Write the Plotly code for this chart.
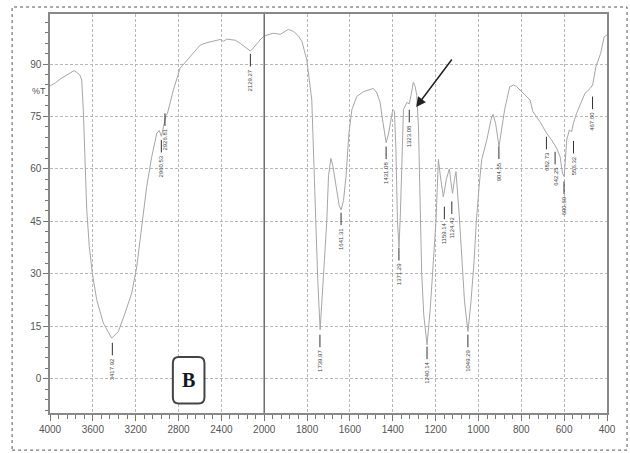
import numpy as np
import plotly.graph_objects as go

# ---- spectrum data (wavenumber cm-1, %T) ----
wavenumber = [4000, 3950, 3900, 3850, 3800, 3776, 3750, 3720, 3704, 3689, 3673, 3657, 3633, 3605,
              3564, 3502, 3424, 3362, 3299, 3237, 3190, 3143, 3097, 3050, 3003, 2980,
              2966, 2960, 2941, 2926, 2916, 2904, 2885, 2848, 2785, 2723, 2650, 2598, 2536, 2470,
              2411, 2380, 2350, 2318, 2270, 2224, 2180, 2150, 2129, 2110, 2069, 2030, 2000,
              1958, 1925, 1887, 1863, 1840, 1824, 1801, 1778, 1770, 1762, 1750, 1739, 1728, 1715,
              1708, 1700, 1689, 1680, 1665, 1650, 1641, 1630, 1618, 1605, 1591, 1568, 1537, 1510,
              1490, 1474, 1459, 1450, 1431, 1420, 1410, 1400, 1392, 1385, 1378, 1371, 1364, 1357,
              1350, 1334, 1323, 1315, 1304, 1295, 1288, 1280, 1272, 1265, 1255, 1240, 1225, 1210,
              1198, 1192, 1187, 1178, 1164, 1150, 1136, 1128, 1121, 1112, 1105, 1090, 1078, 1065,
              1049, 1035, 1020, 1010, 997, 985, 961, 940, 932, 920, 904, 890, 878, 854, 835, 823,
              792, 759, 746, 713, 682, 659, 635, 619, 608, 600, 588, 576, 565, 557, 542, 518, 503,
              479, 467, 452, 430, 413, 400]
transmittance = [83.7, 84.6, 85.8, 86.8, 87.6, 88.1, 87.6, 86.8, 85.4, 76.9, 62.6, 48.3, 37.8, 30.2,
                 22.6, 15.9, 11.6, 13.5, 18.8, 24.5, 32.0, 43.5, 55.0, 63.5, 70.2, 71.0,
                 69.6, 69.3, 72.0, 74.6, 75.4, 75.8, 78.3, 82.6, 88.8, 91.1, 93.5, 95.4, 96.1, 96.5,
                 97.0, 96.5, 97.1, 97.0, 96.8, 95.9, 95.0, 94.2, 93.7, 94.3, 95.9, 97.2, 98.0,
                 98.8, 98.5, 99.9, 99.3, 98.0, 96.4, 91.1, 79.7, 65.0, 48.0, 28.0, 14.0, 25.0, 40.0,
                 45.0, 58.0, 63.0, 61.0, 55.0, 49.5, 48.3, 51.0, 58.0, 70.0, 76.9, 80.7, 82.1, 82.5,
                 83.0, 81.7, 79.0, 75.0, 67.5, 70.0, 74.0, 77.0, 76.5, 65.0, 45.0, 37.5, 48.0, 65.0,
                 77.0, 79.0, 78.6, 81.0, 84.8, 83.5, 81.0, 72.0, 45.0, 30.0, 18.0, 9.7, 20.0, 34.0,
                 45.4, 55.0, 62.7, 58.0, 52.0, 57.0, 60.0, 56.0, 53.0, 57.0, 59.2, 47.0, 34.0, 22.0,
                 13.5, 22.0, 34.0, 45.0, 55.0, 62.6, 68.3, 74.5, 75.6, 73.0, 66.4, 72.0, 76.9, 83.5, 84.0, 83.6,
                 81.6, 79.7, 76.4, 73.5, 70.2, 68.3, 65.9, 63.5, 58.8, 57.8, 68.3, 71.1, 70.7, 73.0, 75.9, 79.7, 81.6,
                 83.0, 84.0, 89.2, 93.0, 97.8, 98.3]

# ---- peak labels ----
peak_wn = [3417.92, 2960.53, 2926.81, 2129.27, 1739.97, 1641.31, 1431.08, 1371.29, 1323.08, 1240.14,
           1159.14, 1124.42, 1049.29, 904.55, 682.73, 642.25, 600.69, 556.32, 467.60]
peak_T = [10.3, 68.3, 75.9, 92.9, 12.6, 47.5, 66.4, 37.4, 76.9, 9.2,
          49.2, 50.7, 12.6, 66.4, 69.2, 64.9, 56.4, 68.0, 80.7]
peak_text = ["3417.92", "2960.53", "2926.81", "2129.27", "1739.97", "1641.31", "1431.08", "1371.29",
             "1323.08", "1240.14", "1159.14", "1124.42", "1049.29", "904.55", "682.73", "642.25",
             "600.69", "556.32", "467.60"]

x_ticks = [4000, 3600, 3200, 2800, 2400, 2000, 1800, 1600, 1400, 1200, 1000, 800, 600, 400]
y_ticks = [0, 15, 30, 45, 60, 75, 90]


def to_p(w):
    """Instrument-style axis: 4000-2000 region compressed by a factor of two."""
    w = np.asarray(w, dtype=float)
    return np.where(w > 2000, 2000 + (w - 2000) / 2.0, w)


fig = go.Figure()
fig.add_trace(go.Scatter(x=to_p(wavenumber), y=transmittance, mode="lines",
                         line=dict(color="#a6a6a6", width=1), hoverinfo="skip"))

shapes = []
annotations = []

# peak markers and labels
for w, t, s in zip(peak_wn, peak_T, peak_text):
    p = float(to_p(w))
    shapes.append(dict(type="line", xref="x", yref="y", x0=p, x1=p, y0=t, y1=t - 3.6,
                       line=dict(color="#333333", width=1)))
    annotations.append(dict(x=p, y=t - 3.8, xref="x", yref="y", text=s, textangle=-90,
                            showarrow=False, xanchor="center", yanchor="top",
                            font=dict(family="Liberation Sans", size=6, color="#444444")))

# split line at 2000
shapes.append(dict(type="line", xref="x", yref="paper", x0=2000, x1=2000, y0=0, y1=1,
                   line=dict(color="#6e6e6e", width=1.5)))

# outer dotted frame
shapes.append(dict(type="rect", xref="paper", yref="paper", x0=-0.068, x1=1.036, y0=-0.093, y1=1.0175,
                   line=dict(color="#555555", width=1, dash="dot")))

# rounded box for "B"
bx0, bx1, by0, by1 = float(to_p(2853)), float(to_p(2558)), -7.1, 6.2
rx, ry = 28, 1.8
path = (f"M {bx0 - rx},{by1} L {bx1 + rx},{by1} Q {bx1},{by1} {bx1},{by1 - ry} "
        f"L {bx1},{by0 + ry} Q {bx1},{by0} {bx1 + rx},{by0} L {bx0 - rx},{by0} "
        f"Q {bx0},{by0} {bx0},{by0 + ry} L {bx0},{by1 - ry} Q {bx0},{by1} {bx0 - rx},{by1} Z")
shapes.append(dict(type="path", xref="x", yref="y", path=path,
                   line=dict(color="#444444", width=2), fillcolor="white"))
annotations.append(dict(x=(bx0 + bx1) / 2, y=(by0 + by1) / 2, xref="x", yref="y",
                        text="<b>B</b>", showarrow=False,
                        font=dict(family="Liberation Serif", size=20, color="#10182a")))

# arrow pointing at 1323 shoulder
annotations.append(dict(x=float(to_p(1291)), y=77.7, ax=float(to_p(1119)), ay=91.7,
                        xref="x", yref="y", axref="x", ayref="y", text="", showarrow=True,
                        arrowhead=2, arrowsize=1.3, arrowwidth=1.5, arrowcolor="#222222"))

# %T label
annotations.append(dict(x=-0.036, y=82.3, xref="paper", yref="y", text="%T", showarrow=False,
                        font=dict(family="Liberation Sans", size=9, color="#555555")))

fig.update_layout(
    width=630, height=453,
    margin=dict(l=50, r=23, t=14, b=40),
    plot_bgcolor="white", paper_bgcolor="white",
    showlegend=False,
    shapes=shapes, annotations=annotations,
    xaxis=dict(range=[3000, 400], tickmode="array", tickvals=to_p(x_ticks),
               ticktext=[str(v) for v in x_ticks], ticks="outside", ticklen=6, tickcolor="#777777",
               showline=True, linecolor="#888888", linewidth=1.5, mirror=True,
               showgrid=True, gridcolor="#b8b8b8", gridwidth=1, griddash="3px,2px", zeroline=False,
               tickfont=dict(family="Liberation Sans", size=10, color="#555555"),
               minor=dict(tickmode="linear", tick0=400, dtick=40, ticks="outside", ticklen=4,
                          tickcolor="#777777", showgrid=False)),
    yaxis=dict(range=[-9.8, 104.3], tickmode="array", tickvals=y_ticks,
               ticktext=[str(v) for v in y_ticks], ticks="outside", ticklen=5, tickcolor="#777777",
               showline=True, linecolor="#888888", linewidth=1.5, mirror=True,
               showgrid=True, gridcolor="#b8b8b8", gridwidth=1, griddash="3px,2px", zeroline=False,
               tickfont=dict(family="Liberation Sans", size=10, color="#555555"),
               minor=dict(tickmode="linear", tick0=0, dtick=3, ticks="outside", ticklen=3,
                          tickcolor="#777777", showgrid=False)),
)

fig.write_html("out.html")
